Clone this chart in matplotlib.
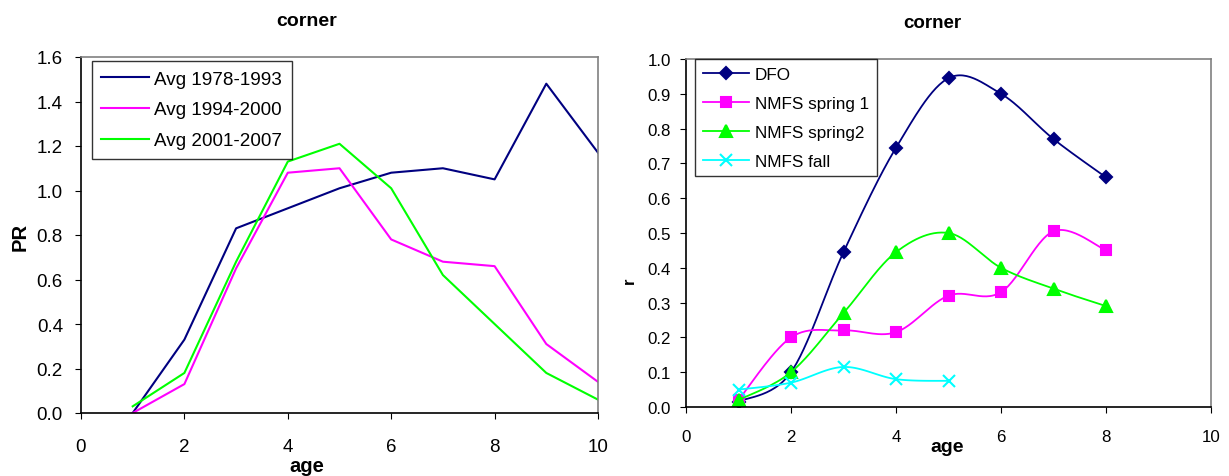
import matplotlib.pyplot as plt
import numpy as np

plt.rcParams['font.family'] = ['Liberation Sans', 'DejaVu Sans']

# age-specific PR, period averages
ages = [1, 2, 3, 4, 5, 6, 7, 8, 9, 10]
avg_1978_1993 = [0.00, 0.33, 0.83, 0.92, 1.01, 1.08, 1.10, 1.05, 1.48, 1.17]
avg_1994_2000 = [0.00, 0.13, 0.65, 1.08, 1.10, 0.78, 0.68, 0.66, 0.31, 0.14]
avg_2001_2007 = [0.03, 0.18, 0.68, 1.13, 1.21, 1.01, 0.62, 0.40, 0.18, 0.06]

# r by survey
survey_ages = [1, 2, 3, 4, 5, 6, 7, 8]
dfo = [0.015, 0.10, 0.445, 0.745, 0.945, 0.90, 0.77, 0.66]
nmfs_spring1 = [0.02, 0.20, 0.22, 0.215, 0.32, 0.33, 0.505, 0.45]
nmfs_spring2 = [0.02, 0.10, 0.27, 0.445, 0.50, 0.40, 0.34, 0.29]
fall_ages = [1, 2, 3, 4, 5]
nmfs_fall = [0.05, 0.07, 0.115, 0.08, 0.075]


def smooth(ax, x, y, n=30):
    # bezier smoothing like a spreadsheet "smoothed line", done in axes units
    x0, x1 = ax.get_xlim()
    y0, y1 = ax.get_ylim()
    px = (np.asarray(x, float) - x0) / (x1 - x0)
    py = (np.asarray(y, float) - y0) / (y1 - y0)
    pts = np.column_stack([px, py])
    out = [pts[0]]
    for i in range(len(pts) - 1):
        p0 = pts[max(i - 1, 0)]
        p1 = pts[i]
        p2 = pts[i + 1]
        p3 = pts[min(i + 2, len(pts) - 1)]
        c1 = p1 + (p2 - p0) / 6
        c2 = p2 - (p3 - p1) / 6
        t = np.linspace(0, 1, n)[1:, None]
        seg = ((1 - t) ** 3) * p1 + 3 * ((1 - t) ** 2) * t * c1 + 3 * (1 - t) * t ** 2 * c2 + t ** 3 * p2
        out.extend(seg)
    out = np.array(out)
    return out[:, 0] * (x1 - x0) + x0, out[:, 1] * (y1 - y0) + y0


fig = plt.figure(figsize=(12.29, 4.77), dpi=100)

ax1 = fig.add_axes([81 / 1229, 1 - 414 / 477, 517 / 1229, 356 / 477])
ax1.plot(ages, avg_1978_1993, color='#000080', lw=1.5, label='Avg 1978-1993')
ax1.plot(ages, avg_1994_2000, color='#FF00FF', lw=1.5, label='Avg 1994-2000')
ax1.plot(ages, avg_2001_2007, color='#00FF00', lw=1.5, label='Avg 2001-2007')
ax1.set_xlim(0, 10)
ax1.set_ylim(0, 1.6)
ax1.set_xticks(range(0, 11, 2))
ax1.set_yticks(np.arange(0, 1.61, 0.2))
ax1.set_yticklabels([f'{v:.1f}' for v in np.arange(0, 1.61, 0.2)])
ax1.tick_params(labelsize=13.5, direction='out', length=4)
ax1.tick_params(axis='x', pad=14)
ax1.tick_params(axis='y', pad=9)
leg1 = ax1.legend(loc='upper left', bbox_to_anchor=(0.021, 0.989), borderaxespad=0,
                  fontsize=13.6, frameon=True,
                  fancybox=False, edgecolor='black', handlelength=2.5, labelspacing=0.72,
                  borderpad=0.5, handletextpad=0.3)
leg1.get_frame().set_linewidth(1.0)

ax2 = fig.add_axes([686 / 1229, 1 - 408 / 477, 525 / 1229, 348 / 477])
ax2.set_xlim(0, 10)
ax2.set_ylim(0, 1.0)
series = [
    (survey_ages, dfo, '#000080', 'D', 'DFO', 6.5),
    (survey_ages, nmfs_spring1, '#FF00FF', 's', 'NMFS spring 1', 7),
    (survey_ages, nmfs_spring2, '#00FF00', '^', 'NMFS spring2', 8.5),
    (fall_ages, nmfs_fall, '#00FFFF', 'x', 'NMFS fall', 8),
]
for x, y, c, m, lab, ms in series:
    sx, sy = smooth(ax2, x, y)
    ax2.plot(sx, sy, color=c, lw=1.3)
    ax2.plot(x, y, ls='none', marker=m, color=c, ms=ms, mew=1.5)
    ax2.plot([], [], color=c, lw=1.3, marker=m, ms=ms, mew=1.5, label=lab)
ax2.set_xticks(range(0, 11, 2))
ax2.set_yticks(np.arange(0, 1.01, 0.1))
ax2.set_yticklabels([f'{v:.1f}' for v in np.arange(0, 1.01, 0.1)])
ax2.tick_params(labelsize=12.2, direction='out', length=4)
ax2.tick_params(axis='x', pad=12)
ax2.tick_params(axis='y', pad=7)
leg2 = ax2.legend(loc='upper left', bbox_to_anchor=(0.017, 1.0), borderaxespad=0,
                  fontsize=12.3, frameon=True,
                  fancybox=False, edgecolor='black', handlelength=2.7, labelspacing=0.82,
                  borderpad=0.45, handletextpad=0.35)
leg2.get_frame().set_linewidth(1.0)

for ax in (ax1, ax2):
    ax.spines['top'].set_color('#808080')
    ax.spines['right'].set_color('#808080')
    ax.spines['left'].set_color('black')
    ax.spines['bottom'].set_color('black')
    for s in ax.spines.values():
        s.set_linewidth(1.2)

fig.text(307 / 1229, 1 - 22 / 477, 'corner', ha='center', va='center', fontsize=14, fontweight='bold')
fig.text(932 / 1229, 1 - 24 / 477, 'corner', ha='center', va='center', fontsize=13.5, fontweight='bold')
fig.text(307 / 1229, 1 - 467 / 477, 'age', ha='center', va='center', fontsize=14.5, fontweight='bold')
fig.text(947 / 1229, 1 - 448 / 477, 'age', ha='center', va='center', fontsize=14, fontweight='bold')
fig.text(20 / 1229, 1 - 237 / 477, 'PR', ha='center', va='center', fontsize=14.5,
         fontweight='bold', rotation=90)
fig.text(629 / 1229, 1 - 281 / 477, 'r', ha='center', va='center', fontsize=12, fontweight='bold', rotation=90)

fig.savefig('out.png', dpi=100)
